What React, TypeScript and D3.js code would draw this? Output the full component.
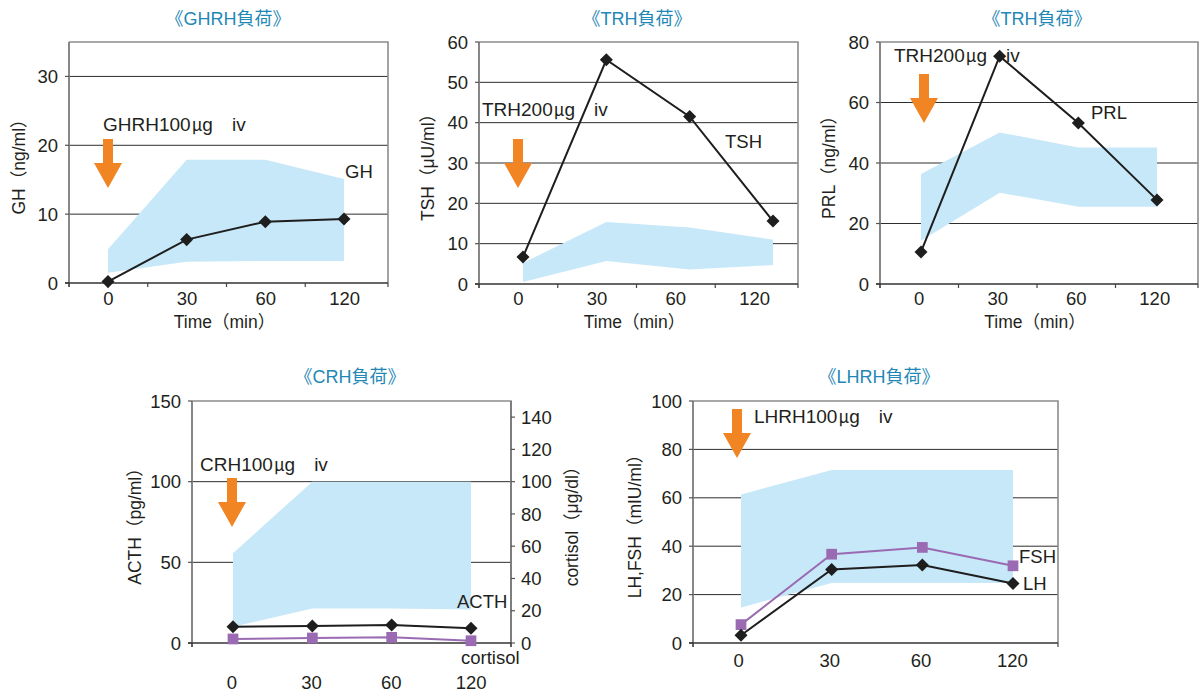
import { useEffect, useRef } from 'react';
import * as d3 from 'd3';

// sampling times (min)
const times = ['0', '30', '60', '120'];

// GHRH test
const ghValues = [0.2, 6.3, 8.9, 9.3];
const ghBandHigh = [4.9, 17.9, 17.9, 15.1];
const ghBandLow = [1.5, 3.1, 3.2, 3.2];

// TRH test (TSH)
const tshValues = [6.7, 55.6, 41.5, 15.6];
const tshBandHigh = [5.2, 15.4, 14.0, 11.0];
const tshBandLow = [0.5, 5.7, 3.6, 4.7];

// TRH test (PRL)
const prlValues = [10.6, 75.3, 53.2, 27.8];
const prlBandHigh = [36.4, 50.1, 45.1, 45.1];
const prlBandLow = [14.3, 30.2, 25.5, 25.5];

// CRH test
const acthValues = [10.1, 10.5, 11.1, 9.1];
const cortisolValues = [2.5, 3.1, 3.5, 1.4];
const acthBandHigh = [55.7, 100, 100, 100];
const acthBandLow = [10, 21.4, 21.4, 20.8];

// LHRH test
const lhValues = [3.2, 30.4, 32.2, 24.6];
const fshValues = [7.6, 36.7, 39.5, 31.9];
const lhrhBandHigh = [61.4, 71.5, 71.5, 71.5];
const lhrhBandLow = [14.7, 24.8, 24.8, 24.8];

const FONT = "'Liberation Sans', Arial, 'Noto Sans CJK JP', sans-serif";
const CJK = "'Noto Sans CJK JP', sans-serif";
const TEXT = '#231f20';
const BLACK = '#1e1e1e';
const PURPLE = '#9a6bb2';
const BAND = '#c7e8f8';
const ORANGE = '#f18523';
const TITLE = '#1f88b6';

const panels = [
  {
    title: '《GHRH負荷》', titleX: 228, titleY: 25,
    left: 69, right: 388, bandRight: 384, top: 42, bottom: 283,
    yMax: 35, yTicks: [0, 10, 20, 30], allXTicks: true, xLabelY: 305,
    yTitle: 'GH（ng/ml）', yTitleX: 19, xTitle: 'Time（min）', xTitleY: 328,
    markRange: [108, 344], bandHigh: ghBandHigh, bandLow: ghBandLow,
    series: [{ values: ghValues, color: BLACK, shape: 'diamond' }],
    arrowX: 108, arrowTop: 139,
    dose: { pre: 'GHRH100', post: 'g　iv', x: 103, y: 131 },
    labels: [{ text: 'GH', x: 345, y: 178 }],
  },
  {
    title: '《TRH負荷》', titleX: 637, titleY: 25,
    left: 479, right: 798, bandRight: 794, top: 42, bottom: 284,
    yMax: 60, yTicks: [0, 10, 20, 30, 40, 50, 60], allXTicks: true, xLabelY: 305,
    yTitle: 'TSH（μU/ml）', yTitleX: 428, xTitle: 'Time（min）', xTitleY: 328,
    markRange: [523, 773], bandHigh: tshBandHigh, bandLow: tshBandLow,
    series: [{ values: tshValues, color: BLACK, shape: 'diamond' }],
    arrowX: 518, arrowTop: 139,
    dose: { pre: 'TRH200', post: 'g　iv', x: 482, y: 116 },
    labels: [{ text: 'TSH', x: 725, y: 148 }],
  },
  {
    title: '《TRH負荷》', titleX: 1037, titleY: 25,
    left: 880, right: 1198, bandRight: 1194, top: 42, bottom: 284,
    yMax: 80, yTicks: [0, 20, 40, 60, 80], allXTicks: true, xLabelY: 305,
    yTitle: 'PRL（ng/ml）', yTitleX: 829, xTitle: 'Time（min）', xTitleY: 328,
    markRange: [921, 1157], bandHigh: prlBandHigh, bandLow: prlBandLow,
    series: [{ values: prlValues, color: BLACK, shape: 'diamond' }],
    arrowX: 924, arrowTop: 74,
    dose: { pre: 'TRH200', post: 'g　iv', x: 894, y: 62 },
    labels: [{ text: 'PRL', x: 1091, y: 119 }],
  },
  {
    title: '《CRH負荷》', titleX: 350, titleY: 383,
    left: 192, right: 511, bandRight: 511, top: 401, bottom: 643,
    yMax: 150, yTicks: [0, 50, 100, 150], allXTicks: false, xLabelY: 689,
    yTitle: 'ACTH（pg/ml）', yTitleX: 135, xTitle: null, xTitleY: 0,
    markRange: [233, 471], bandHigh: acthBandHigh, bandLow: acthBandLow,
    series: [
      { values: cortisolValues, color: PURPLE, shape: 'square' },
      { values: acthValues, color: BLACK, shape: 'diamond' },
    ],
    rightAxis: { max: 150, ticks: [0, 20, 40, 60, 80, 100, 120, 140], title: 'cortisol（μg/dl）', titleX: 572 },
    arrowX: 232, arrowTop: 478,
    dose: { pre: 'CRH100', post: 'g　iv', x: 200, y: 471 },
    labels: [{ text: 'ACTH', x: 457, y: 608 }, { text: 'cortisol', x: 461, y: 664 }],
  },
  {
    title: '《LHRH負荷》', titleX: 879, titleY: 383,
    left: 693, right: 1058, bandRight: 1058, top: 401, bottom: 643,
    yMax: 100, yTicks: [0, 20, 40, 60, 80, 100], allXTicks: false, xLabelY: 667,
    yTitle: 'LH,FSH（mIU/ml）', yTitleX: 635, xTitle: null, xTitleY: 0,
    markRange: [741, 1013], bandHigh: lhrhBandHigh, bandLow: lhrhBandLow,
    series: [
      { values: fshValues, color: PURPLE, shape: 'square' },
      { values: lhValues, color: BLACK, shape: 'diamond' },
    ],
    arrowX: 737, arrowTop: 409,
    dose: { pre: 'LHRH100', post: 'g　iv', x: 754, y: 423 },
    labels: [{ text: 'FSH', x: 1019, y: 563 }, { text: 'LH', x: 1023, y: 590 }],
  },
];

function drawPanel(svg, p) {
  const g = svg.append('g');
  const y = d3.scaleLinear().domain([0, p.yMax]).range([p.bottom, p.top]);
  const xb = d3.scaleBand().domain(times).range([p.left, p.bandRight]);
  const xm = d3.scalePoint().domain(times).range(p.markRange);

  // title
  g.append('text')
    .attr('x', p.titleX).attr('y', p.titleY)
    .attr('text-anchor', 'middle')
    .attr('font-size', 18).attr('fill', TITLE)
    .text(p.title);

  // gridlines
  g.selectAll('line.grid')
    .data(p.yTicks.filter(t => t > 0 && t < p.yMax))
    .join('line')
    .attr('x1', p.left).attr('x2', p.right)
    .attr('y1', d => y(d)).attr('y2', d => y(d))
    .attr('stroke', '#2e2e2e').attr('stroke-width', 1);

  // top + right border
  g.append('path')
    .attr('d', `M${p.left},${p.top}H${p.right}V${p.bottom}`)
    .attr('fill', 'none').attr('stroke', '#8c8c8c').attr('stroke-width', 1.6);

  // reference range band
  const area = d3.area()
    .x((_, i) => xm(times[i]))
    .y0((_, i) => y(p.bandLow[i]))
    .y1(d => y(d));
  g.append('path').datum(p.bandHigh).attr('d', area).attr('fill', BAND);

  // left axis
  g.append('line')
    .attr('x1', p.left).attr('x2', p.left).attr('y1', p.top).attr('y2', p.bottom + 4)
    .attr('stroke', '#7a7a7a').attr('stroke-width', 1.8);
  g.selectAll('line.ytick').data(p.yTicks).join('line')
    .attr('x1', p.left - 4).attr('x2', p.left)
    .attr('y1', d => y(d)).attr('y2', d => y(d))
    .attr('stroke', '#555').attr('stroke-width', 1.2);
  g.selectAll('text.ylab').data(p.yTicks).join('text')
    .attr('x', p.left - 11).attr('y', d => y(d))
    .attr('dy', '0.36em')
    .attr('text-anchor', 'end').attr('font-size', 18.5).attr('fill', TEXT)
    .text(d => d);
  g.append('text')
    .attr('transform', `translate(${p.yTitleX},${(p.top + p.bottom) / 2}) rotate(-90)`)
    .attr('text-anchor', 'middle').attr('dominant-baseline', 'central')
    .attr('font-size', 17.5).attr('fill', TEXT)
    .text(p.yTitle);

  // right axis (cortisol)
  if (p.rightAxis) {
    const yr = d3.scaleLinear().domain([0, p.rightAxis.max]).range([p.bottom, p.top]);
    p.yRight = yr;
    g.append('line')
      .attr('x1', p.right).attr('x2', p.right).attr('y1', p.top).attr('y2', p.bottom + 4)
      .attr('stroke', '#7a7a7a').attr('stroke-width', 1.8);
    g.selectAll('line.rtick').data(p.rightAxis.ticks).join('line')
      .attr('x1', p.right).attr('x2', p.right + 4)
      .attr('y1', d => yr(d)).attr('y2', d => yr(d))
      .attr('stroke', '#555').attr('stroke-width', 1.2);
    g.selectAll('text.rlab').data(p.rightAxis.ticks).join('text')
      .attr('x', p.right + 10).attr('y', d => yr(d))
      .attr('dy', '0.36em')
      .attr('font-size', 18.5).attr('fill', TEXT)
      .text(d => d);
    g.append('text')
      .attr('transform', `translate(${p.rightAxis.titleX},${(p.top + p.bottom) / 2}) rotate(-90)`)
      .attr('text-anchor', 'middle').attr('dominant-baseline', 'central')
      .attr('font-size', 17.5).attr('fill', TEXT)
      .text(p.rightAxis.title);
  }

  // x axis
  g.append('line')
    .attr('x1', p.left - 4).attr('x2', p.right)
    .attr('y1', p.bottom).attr('y2', p.bottom)
    .attr('stroke', '#333').attr('stroke-width', 1.3);
  const xTicks = p.allXTicks ? [...times.map(t => xb(t)), p.right] : [p.left, p.right];
  g.selectAll('line.xtick').data(xTicks).join('line')
    .attr('x1', d => d).attr('x2', d => d)
    .attr('y1', p.bottom).attr('y2', p.bottom + 4)
    .attr('stroke', '#444').attr('stroke-width', 1.2);
  g.selectAll('text.xlab').data(times).join('text')
    .attr('x', d => xb(d) + xb.bandwidth() / 2).attr('y', p.xLabelY)
    .attr('text-anchor', 'middle').attr('font-size', 18.5).attr('fill', TEXT)
    .text(d => d);
  if (p.xTitle) {
    g.append('text')
      .attr('x', (p.left + p.right) / 2 - 4).attr('y', p.xTitleY)
      .attr('text-anchor', 'middle').attr('font-size', 17.5).attr('fill', TEXT)
      .text(p.xTitle);
  }

  // arrow (injection)
  const ax = p.arrowX, at = p.arrowTop;
  g.append('path')
    .attr('d', `M${ax - 5},${at}H${ax + 5}V${at + 24}H${ax + 14}L${ax},${at + 49}L${ax - 14},${at + 24}H${ax - 5}Z`)
    .attr('fill', ORANGE);
  const dose = g.append('text')
    .attr('x', p.dose.x).attr('y', p.dose.y)
    .attr('font-size', 19).attr('fill', TEXT);
  dose.append('tspan').text(p.dose.pre);
  dose.append('tspan').attr('font-family', CJK).attr('font-size', 17).attr('dx', 1).text('μ');
  dose.append('tspan').text(p.dose.post);

  // series
  p.series.forEach((s, si) => {
    const yy = si === 0 && p.rightAxis ? p.yRight : y;
    const line = d3.line().x((_, i) => xm(times[i])).y(d => yy(d));
    g.append('path').datum(s.values).attr('d', line)
      .attr('fill', 'none').attr('stroke', s.color).attr('stroke-width', 2);
    const sym = s.shape === 'square'
      ? d3.symbol(d3.symbolSquare, 115)
      : d3.symbol(d3.symbolSquare, 85);
    g.selectAll(null).data(s.values).join('path')
      .attr('transform', (d, i) => `translate(${xm(times[i])},${yy(d)})${s.shape === 'diamond' ? ' rotate(45)' : ''}`)
      .attr('d', sym)
      .attr('fill', s.color);
  });

  // series labels
  p.labels.forEach(l => {
    g.append('text').attr('x', l.x).attr('y', l.y)
      .attr('font-size', 18.5).attr('fill', TEXT).text(l.text);
  });
}

const App = () => {
  const svgRef = useRef();

  useEffect(() => {
    const svg = d3.select(svgRef.current);
    svg.selectAll('*').remove();
    panels.forEach(p => drawPanel(svg, { ...p }));
  }, []);

  return (
    <div style={{ position: 'absolute', left: 0, top: 0 }}>
      <svg ref={svgRef} width="1199" height="693" viewBox="0 0 1199 693"
        style={{ display: 'block', background: '#fff', fontFamily: FONT }}></svg>
    </div>
  );
};

export default App;
